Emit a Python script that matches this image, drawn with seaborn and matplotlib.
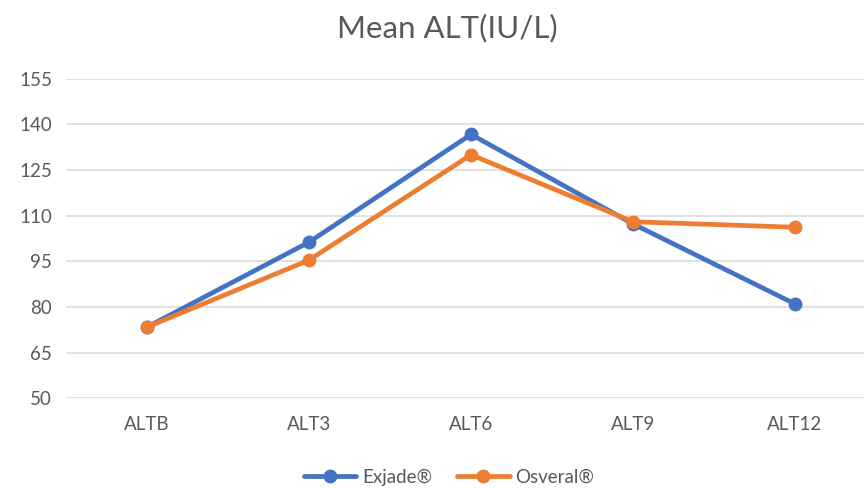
import pandas as pd
import matplotlib
matplotlib.use("Agg")
import matplotlib.pyplot as plt
import seaborn as sns

# data
visits = ["ALTB", "ALT3", "ALT6", "ALT9", "ALT12"]
exjade = [73.4, 101.3, 136.7, 107.3, 81.0]
osveral = [73.4, 95.4, 130.0, 108.0, 106.2]
series_names = ["Exjade®", "Osveral®"]
y_ticks = [50, 65, 80, 95, 110, 125, 140, 155]

df = pd.DataFrame({
    "visit": visits * 2,
    "value": exjade + osveral,
    "series": [series_names[0]] * len(visits) + [series_names[1]] * len(visits),
})

sns.set_theme(style="white")
plt.rcParams['font.family'] = ['Lato', 'DejaVu Sans']
grey = "#595959"

fig = plt.figure(figsize=(8.64, 4.88), dpi=100)
ax = fig.add_axes([66 / 864, 1 - 398.3 / 488, 810 / 864, (398.3 - 78.7) / 488])

sns.lineplot(data=df, x="visit", y="value", hue="series",
             palette=["#4472C4", "#ED7D31"], marker="o", markersize=10,
             markeredgewidth=0, linewidth=3.4, sort=False, ax=ax, legend=True)

ax.set_xlim(-0.5, len(visits) - 0.5)
ax.set_ylim(50, 155)
ax.set_yticks(y_ticks)
ax.yaxis.grid(True, color="#D9D9D9", linewidth=1.1)
ax.xaxis.grid(False)
for s in ax.spines.values():
    s.set_visible(False)
ax.tick_params(axis="both", length=0, labelsize=13.5, labelcolor=grey)
ax.tick_params(axis="x", pad=13)
ax.tick_params(axis="y", pad=10)
ax.set_xlabel("")
ax.set_ylabel("")

handles, labels = ax.get_legend_handles_labels()
ax.get_legend().remove()
fig.legend(handles, labels, loc="center", bbox_to_anchor=(449 / 864, 1 - 477 / 488),
           ncol=2, frameon=False, fontsize=13.5, labelcolor=grey,
           handlelength=2.8, columnspacing=1.35, handletextpad=0.3)

fig.text(447 / 864, 1 - 28 / 488, "Mean ALT(IU/L)", ha="center", va="center",
         fontsize=22.5, color=grey)

fig.savefig("out.png", dpi=100)
